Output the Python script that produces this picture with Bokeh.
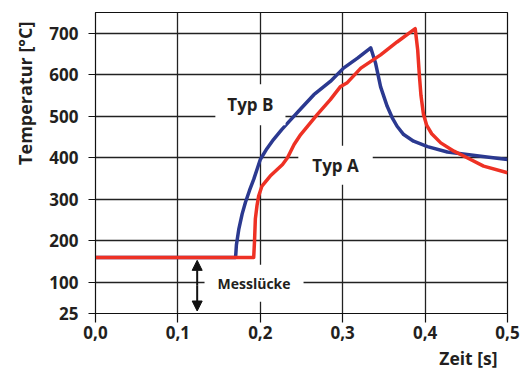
import math
from bokeh.plotting import figure
from bokeh.models import Range1d, FixedTicker, Label, Arrow, NormalHead, Title
from bokeh.embed import file_html
from bokeh.resources import INLINE

# ---- data ----
typ_a_x = [0.0, 0.192, 0.193, 0.194, 0.196, 0.198, 0.202, 0.212, 0.227, 0.233, 0.241, 0.249,
           0.269, 0.285, 0.297, 0.305, 0.322, 0.346, 0.366, 0.388, 0.391, 0.393, 0.395, 0.398,
           0.402, 0.408, 0.419, 0.435, 0.451, 0.471, 0.5]
typ_a_y = [160, 160, 200, 253, 285, 308, 332, 356, 384, 400, 432, 456,
           504, 540, 571, 580, 616, 648, 679, 711, 660, 600, 550, 505,
           478, 458, 436, 416, 400, 380, 364]

typ_b_x = [0.0, 0.170, 0.171, 0.174, 0.178, 0.182, 0.187, 0.192, 0.200, 0.208, 0.216, 0.226,
           0.237, 0.250, 0.265, 0.285, 0.301, 0.318, 0.334, 0.340, 0.346, 0.354, 0.360, 0.366,
           0.374, 0.386, 0.403, 0.427, 0.451, 0.475, 0.5]
typ_b_y = [160, 160, 190, 229, 265, 293, 322, 348, 396, 422, 444, 468,
           492, 520, 552, 584, 616, 640, 665, 627, 571, 524, 497, 476,
           456, 440, 427, 414, 408, 402, 396]

x_ticks = [0.0, 0.1, 0.2, 0.3, 0.4, 0.5]
x_tick_labels = ["0,0", "0,1", "0,2", "0,3", "0,4", "0,5"]
y_ticks = [25, 100, 200, 300, 400, 500, 600, 700]
y_grid = [100, 200, 300, 400, 500, 600, 700]

FONT = "Open Sans"
TXT = "#231F20"
RED = "#EE3124"
BLUE = "#2B3990"

p = figure(width=524, height=372, output_backend="svg", toolbar_location=None,
           x_range=Range1d(0, 0.5), y_range=Range1d(25, 750),
           min_border_left=95, min_border_right=17, min_border_top=12, min_border_bottom=57)
p.background_fill_color = "white"
p.border_fill_color = "white"
p.outline_line_color = "#111111"
p.outline_line_width = 1.2

p.xaxis.ticker = FixedTicker(ticks=x_ticks)
p.xaxis.major_label_overrides = {t: l for t, l in zip(x_ticks, x_tick_labels)}
p.yaxis.ticker = FixedTicker(ticks=y_ticks)
for ax in (p.xaxis[0], p.yaxis[0]):
    ax.axis_line_color = "#111111"
    ax.major_tick_line_color = "#111111"
    ax.major_tick_line_width = 1.2
    ax.minor_tick_line_color = None
    ax.major_tick_in = 0
    ax.major_label_text_font = FONT
    ax.major_label_text_font_style = "bold"
    ax.major_label_text_font_size = "17px"
    ax.major_label_text_color = TXT
p.xaxis.major_tick_out = 9
p.xaxis.major_label_standoff = 3
p.yaxis.major_tick_out = 7
p.yaxis.major_label_standoff = 10

p.xgrid.ticker = FixedTicker(ticks=[0.1, 0.2, 0.3, 0.4])
p.ygrid.ticker = FixedTicker(ticks=y_grid)
for g in (p.xgrid[0], p.ygrid[0]):
    g.grid_line_color = "#222222"
    g.grid_line_width = 1.3

p.line(typ_b_x, typ_b_y, line_color=BLUE, line_width=3.5, line_join="round")
p.line(typ_a_x, typ_a_y, line_color=RED, line_width=3.5, line_join="round")

def box_label(x, y, text, size, px, py):
    p.add_layout(Label(x=x, y=y, text=text, text_font=FONT, text_font_style="bold",
                       text_font_size=size, text_color=TXT, text_align="center",
                       text_baseline="middle", background_fill_color="white",
                       padding=dict(x=px, y=py)))

box_label(0.1880, 528, "Typ B", "17px", 12, 9)
box_label(0.2913, 382, "Typ A", "17px", 14, 8)
box_label(0.1924, 98, "Messlücke", "14px", 13, 9)

arrow_x = 0.1234
p.add_layout(Arrow(x_start=arrow_x, y_start=92, x_end=arrow_x, y_end=153,
                   line_color="#111111", line_width=2,
                   end=NormalHead(size=10, fill_color="#111111", line_color="#111111"),
                   start=None))
p.add_layout(Arrow(x_start=arrow_x, y_start=92, x_end=arrow_x, y_end=31,
                   line_color="#111111", line_width=2,
                   end=NormalHead(size=10, fill_color="#111111", line_color="#111111"),
                   start=None))

p.add_layout(Title(text="Temperatur [°C]", align="right", offset=9, standoff=19,
                   text_font=FONT, text_font_style="bold", text_font_size="18px",
                   text_color=TXT), "left")
p.add_layout(Title(text="Zeit [s]", align="right", offset=10, standoff=5,
                   text_font=FONT, text_font_style="bold", text_font_size="17.5px",
                   text_color=TXT), "below")

open("out.html", "w").write(file_html(p, INLINE))
